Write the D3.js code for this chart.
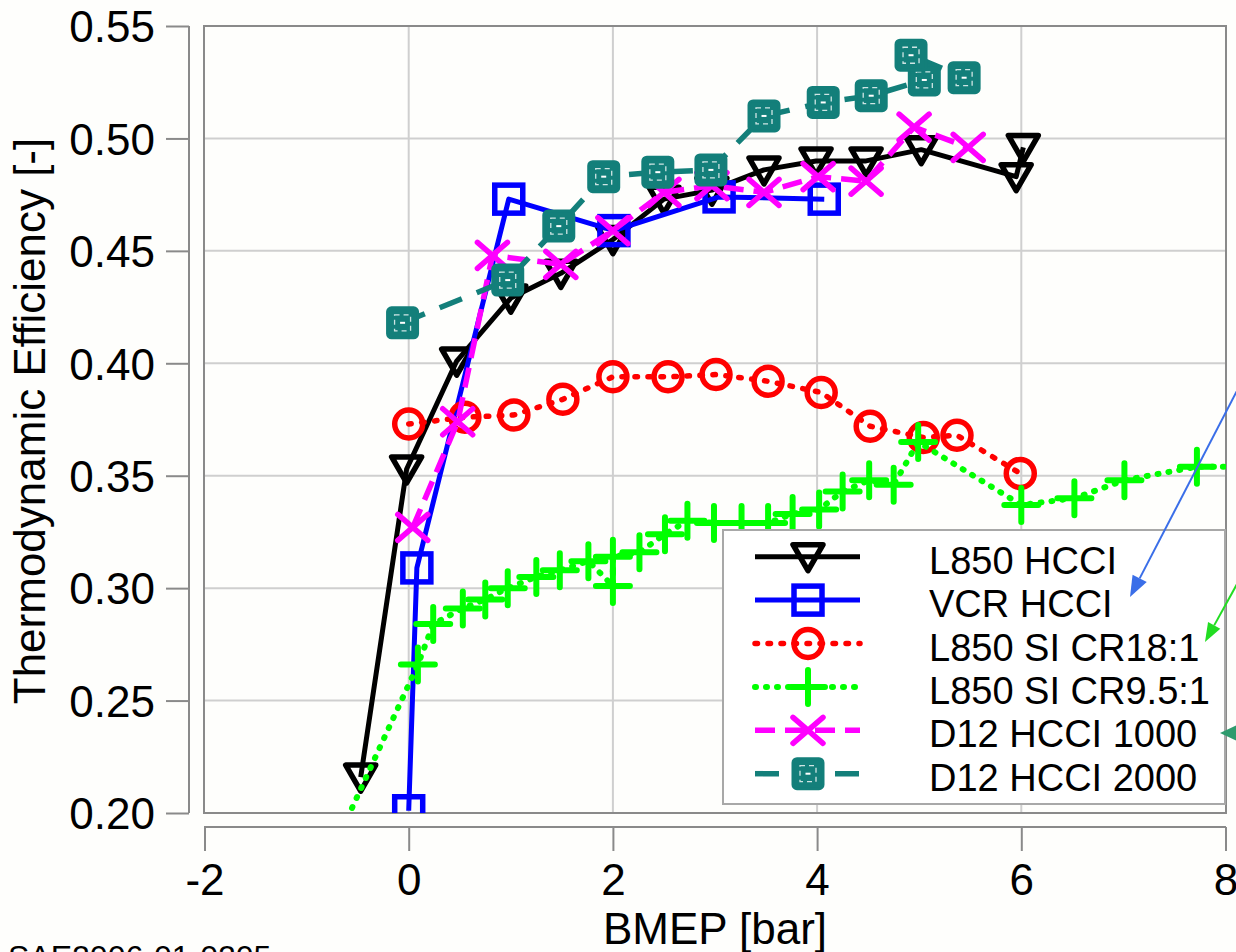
<!DOCTYPE html>
<html>
<head>
<meta charset="utf-8">
<script src="https://cdn.jsdelivr.net/npm/d3@7"></script>
<style>
  html, body { margin: 0; padding: 0; background: #ffffff; }
  svg { display: block; font-family: "Liberation Sans", Arial, sans-serif; }
</style>
</head>
<body>
<svg id="chart" width="1236" height="952"></svg>
<script>
// ---- data -------------------------------------------------------------
const xTicks = [-2, 0, 2, 4, 6, 8];
const yTicks = [0.20, 0.25, 0.30, 0.35, 0.40, 0.45, 0.50, 0.55];
const xTitle = "BMEP [bar]";
const yTitle = "Thermodynamic Efficiency [-]";
const sourceNote = "SAE2006-01-0205";

const seriesNames = ["L850 HCCI", "VCR HCCI", "L850 SI CR18:1", "L850 SI CR9.5:1", "D12 HCCI 1000", "D12 HCCI 2000"];

// [BMEP (bar), thermodynamic efficiency (-)]
const l850Hcci = [[-0.47, 0.216], [-0.02, 0.353], [0.47, 0.401], [1.00, 0.429], [1.49, 0.440], [2.00, 0.455],
  [2.50, 0.473], [2.97, 0.477], [3.48, 0.486], [3.99, 0.490], [4.48, 0.490], [5.02, 0.495], [5.95, 0.483], [6.02, 0.496]];
const vcrHcci = [[0.00, 0.201], [0.08, 0.309], [0.98, 0.473], [2.01, 0.459], [3.04, 0.474], [4.07, 0.473]];
const l850SiCr18 = [[0.00, 0.373], [0.55, 0.376], [1.03, 0.377], [1.51, 0.384], [2.00, 0.394], [2.54, 0.394],
  [3.01, 0.395], [3.52, 0.392], [4.04, 0.387], [4.52, 0.372], [5.04, 0.367], [5.37, 0.368], [5.99, 0.351]];
const l850SiCr95 = [[-0.78, 0.180], [0.09, 0.266], [0.24, 0.284], [0.53, 0.291], [0.75, 0.295], [0.97, 0.300],
  [1.25, 0.305], [1.48, 0.308], [1.76, 0.312], [2.00, 0.301], [2.00, 0.314], [2.26, 0.316], [2.51, 0.324],
  [2.73, 0.330], [2.99, 0.329], [3.26, 0.329], [3.52, 0.329], [3.76, 0.333], [4.02, 0.335], [4.25, 0.343],
  [4.51, 0.348], [4.75, 0.346], [4.99, 0.365], [6.00, 0.337], [6.52, 0.340], [7.01, 0.348], [7.72, 0.354], [8.40, 0.354]];
const d12Hcci1000 = [[0.04, 0.327], [0.48, 0.374], [0.82, 0.448], [1.49, 0.444], [2.00, 0.459], [2.50, 0.476],
  [2.97, 0.479], [3.48, 0.476], [4.01, 0.483], [4.48, 0.481], [4.95, 0.505], [5.48, 0.496]];
const d12Hcci2000 = [[-0.06, 0.418], [0.97, 0.437], [1.47, 0.461], [1.91, 0.483], [2.44, 0.485], [2.96, 0.486],
  [3.48, 0.510], [4.06, 0.516], [4.53, 0.519], [5.05, 0.526], [4.92, 0.537], [5.44, 0.527]];

// ---- layout -----------------------------------------------------------
const plot = { left: 204, top: 26, right: 1226, bottom: 813 };
const FONT = 44;

const x = d3.scaleLinear().domain([-2, 8]).range([plot.left + 0.5, plot.right - 0.5]);
const y = d3.scaleLinear().domain([0.20, 0.55]).range([plot.bottom, plot.top]);

const TEAL = "#137f7a";
const series = [
  { name: seriesNames[0], data: l850Hcci,    color: "#000000", width: 5,   dash: null,    cap: "butt",  marker: "tri" },
  { name: seriesNames[1], data: vcrHcci,     color: "#0000ff", width: 5,   dash: null,    cap: "butt",  marker: "square" },
  { name: seriesNames[2], data: l850SiCr18,  color: "#ff0000", width: 5.5, dash: "2.5,10.5", cap: "round", marker: "circle" },
  { name: seriesNames[3], data: l850SiCr95,  color: "#00ff00", width: 6,   dash: "1,10",  cap: "round", marker: "plus" },
  { name: seriesNames[4], data: d12Hcci1000, color: "#ff00ff", width: 5.5, dash: "20,10", cap: "butt",  marker: "cross" },
  { name: seriesNames[5], data: d12Hcci2000, color: TEAL,      width: 5.5, dash: "24,16", cap: "butt",  marker: "tealbox" }
];

const svg = d3.select("#chart");
svg.append("rect").attr("width", 1236).attr("height", 952).attr("fill", "#fefefc");

svg.append("defs").append("clipPath").attr("id", "plotClip")
  .append("rect")
  .attr("x", plot.left).attr("y", plot.top)
  .attr("width", plot.right - plot.left).attr("height", plot.bottom - plot.top);

// ---- grid & frame -----------------------------------------------------
const grid = svg.append("g");
grid.selectAll("line.gx").data(xTicks.filter(t => t > -2 && t < 8)).join("line")
  .attr("x1", d => x(d)).attr("x2", d => x(d))
  .attr("y1", plot.top).attr("y2", plot.bottom)
  .attr("stroke", "#cfcfcf").attr("stroke-width", 2);
grid.selectAll("line.gy").data(yTicks.filter(t => t > 0.2 && t < 0.55)).join("line")
  .attr("x1", plot.left).attr("x2", plot.right)
  .attr("y1", d => y(d)).attr("y2", d => y(d))
  .attr("stroke", "#cfcfcf").attr("stroke-width", 2);
svg.append("rect")
  .attr("x", plot.left).attr("y", plot.top)
  .attr("width", plot.right - plot.left).attr("height", plot.bottom - plot.top)
  .attr("fill", "none").attr("stroke", "#8a8a8a").attr("stroke-width", 2);

// ---- axes (detached from the frame) ------------------------------------
const yAxis = d3.axisLeft(y).tickValues(yTicks).tickFormat(d3.format(".2f")).tickSize(23).tickPadding(12);
const gy = svg.append("g").attr("transform", "translate(189,0)").call(yAxis);
const xAxis = d3.axisBottom(x).tickValues(xTicks).tickFormat(d => String(d)).tickSize(24).tickPadding(12);
const gx = svg.append("g").attr("transform", "translate(0,827)").call(xAxis);

[gx, gy].forEach(g => {
  g.select(".domain").attr("stroke", "#8a8a8a").attr("stroke-width", 2);
  g.selectAll(".tick line").attr("stroke", "#8a8a8a").attr("stroke-width", 2);
  g.selectAll(".tick text").attr("fill", "#000").attr("font-size", FONT)
    .attr("font-family", "'Liberation Sans', Arial, sans-serif");
});
gy.select(".domain").attr("d", `M0,${plot.top}V${plot.bottom}`);
gx.select(".domain").attr("d", `M${plot.left},0H${plot.right}`);
gy.selectAll(".tick text").attr("x", -34).attr("dy", "0.36em");
gx.selectAll(".tick text").attr("dy", null).attr("y", 68);

// axis titles
svg.append("text").attr("x", 715).attr("y", 944).attr("text-anchor", "middle")
  .attr("font-size", FONT).attr("fill", "#000").text(xTitle);
svg.append("text").attr("transform", "translate(45,421) rotate(-90)").attr("text-anchor", "middle")
  .attr("font-size", FONT).attr("fill", "#000").text(yTitle);
svg.append("text").attr("x", 8).attr("y", 968).attr("font-size", 32).attr("fill", "#000").text(sourceNote);

// ---- markers ----------------------------------------------------------
function drawMarker(g, type, color, cx, cy) {
  const m = g.append("g").attr("transform", `translate(${cx},${cy})`);
  if (type === "tri") {
    m.append("path").attr("d", "M-15,-12L15,-12L0,14Z")
      .attr("fill", "none").attr("stroke", color).attr("stroke-width", 5.5).attr("stroke-linejoin", "round");
  } else if (type === "square") {
    m.append("rect").attr("x", -14).attr("y", -14).attr("width", 28).attr("height", 28)
      .attr("fill", "none").attr("stroke", color).attr("stroke-width", 5.5);
  } else if (type === "circle") {
    m.append("circle").attr("r", 14)
      .attr("fill", "none").attr("stroke", color).attr("stroke-width", 5.5);
  } else if (type === "plus") {
    m.append("path").attr("d", "M-17,0H17M0,-17V17")
      .attr("stroke", color).attr("stroke-width", 6).attr("stroke-linecap", "round");
  } else if (type === "cross") {
    m.append("path").attr("d", "M-15,-13L15,13M-15,13L15,-13")
      .attr("stroke", color).attr("stroke-width", 5.5).attr("stroke-linecap", "round");
  } else if (type === "tealbox") {
    m.append("rect").attr("x", -15).attr("y", -15).attr("width", 30).attr("height", 30).attr("rx", 4)
      .attr("fill", color).attr("stroke", color).attr("stroke-width", 3);
    m.append("rect").attr("x", -8).attr("y", -8).attr("width", 16).attr("height", 16)
      .attr("fill", "none").attr("stroke", "#ffffff").attr("stroke-opacity", 0.8)
      .attr("stroke-width", 1.3).attr("stroke-dasharray", "5,4");
    m.append("rect").attr("x", -2.5).attr("y", -1).attr("width", 5).attr("height", 2).attr("fill", "#ffffff");
  }
}

// ---- series -----------------------------------------------------------
const line = d3.line().x(d => x(d[0])).y(d => y(d[1]));
const dataLayer = svg.append("g").attr("clip-path", "url(#plotClip)");
series.forEach(s => {
  const g = dataLayer.append("g");
  g.append("path").attr("d", line(s.data))
    .attr("fill", "none").attr("stroke", s.color).attr("stroke-width", s.width)
    .attr("stroke-linecap", s.cap).attr("stroke-linejoin", "round")
    .attr("stroke-dasharray", s.dash);
  s.data.forEach(d => drawMarker(g, s.marker, s.color, x(d[0]), y(d[1])));
});

// ---- legend -----------------------------------------------------------
const legend = svg.append("g");
legend.append("rect").attr("x", 723).attr("y", 530).attr("width", 502).attr("height", 274)
  .attr("fill", "#ffffff").attr("stroke", "#a8a8a8").attr("stroke-width", 2);
series.forEach((s, i) => {
  const ry = 556.7 + i * 43.4;
  legend.append("line").attr("x1", 755).attr("x2", 860).attr("y1", ry).attr("y2", ry)
    .attr("stroke", s.color).attr("stroke-width", s.width)
    .attr("stroke-linecap", s.cap).attr("stroke-dasharray", s.dash);
  drawMarker(legend, s.marker, s.color, 808, ry);
  legend.append("text").attr("x", 929).attr("y", ry + 17).attr("font-size", 38).attr("fill", "#000").text(s.name);
});

// ---- pointer arrows ----------------------------------------------------
function arrow(x0, y0, x1, y1, color, w, headLen, headHalf) {
  const dx = x1 - x0, dy = y1 - y0, len = Math.hypot(dx, dy);
  const ux = dx / len, uy = dy / len;
  const bx = x1 - ux * headLen, by = y1 - uy * headLen;
  svg.append("line").attr("x1", x0).attr("y1", y0).attr("x2", bx).attr("y2", by)
    .attr("stroke", color).attr("stroke-width", w);
  svg.append("path")
    .attr("d", `M${x1},${y1}L${bx - uy * headHalf},${by + ux * headHalf}L${bx + uy * headHalf},${by - ux * headHalf}Z`)
    .attr("fill", color);
}
arrow(1242, 381, 1130, 597, "#3a6ee8", 2, 21, 8);
arrow(1242, 575, 1205, 642, "#22dd22", 2, 19, 7);
arrow(1260, 733, 1220, 733, "#2e9b6e", 2, 17, 8);
</script>
</body>
</html>
